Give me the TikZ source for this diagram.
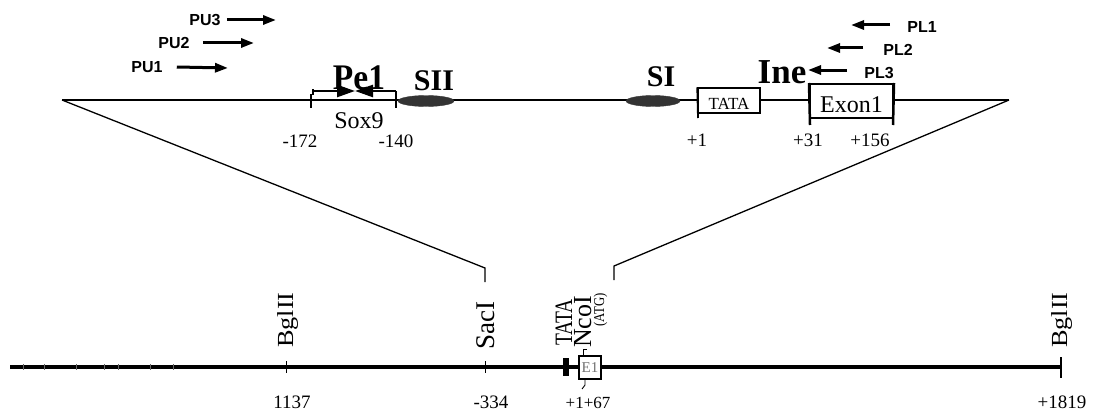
\documentclass[tikz,border=0pt]{standalone}
\usepackage{fontspec}
\usepackage{graphicx}
\setmainfont{Liberation Serif}
\newfontfamily\arialf{Liberation Sans}
\usetikzlibrary{arrows.meta,shapes.geometric}
\newcommand\fsz[1]{\fontsize{#1}{#1}\selectfont}
\begin{document}
\begin{tikzpicture}[x=1pt,y=-1pt,
  txt/.style={inner sep=0pt},
  rot/.style={inner sep=0pt,rotate=90,anchor=base west},
  primerlbl/.style={inner sep=0pt,font=\arialf\bfseries\fsz{16}},
  primer/.style={line width=3pt,-{Triangle[length=13pt,width=9pt]}},
  pelarrow/.style={line width=2.5pt,-{Triangle[length=18pt,width=12pt]}},
  thin/.style={line width=1.3pt},
  main/.style={line width=2pt},
  tick/.style={line width=1.8pt},
  blob/.style={ellipse,fill=black!80,draw=black!80,inner sep=0pt},
]
\useasboundingbox (0,0) rectangle (1094,412);
% ---------- top map ----------
\coordinate (tl) at (62,100);
\coordinate (tr) at (1009,100);
\draw[main] (tl) -- (tr);
% zoom lines
\coordinate (sacA) at (485,268);
\coordinate (sacB) at (485,282);
\coordinate (ncoA) at (614,266);
\coordinate (ncoB) at (614,280);
\draw[thin] (tl) -- (sacA) -- (sacB);
\draw[thin] (tr) -- (ncoA) -- (ncoB);
% Sox9 site
\coordinate (t172a) at (311,94);
\coordinate (t172b) at (311,108);
\coordinate (t140a) at (396,91);
\coordinate (t140b) at (396,108);
\draw[tick] (t172a) -- (t172b);
\draw[tick] (t140a) -- (t140b);
\coordinate (pl) at (313,91);
\coordinate (pr) at (396,91);
\coordinate (pm) at (355,91);
\draw[line width=1.5pt] (313,89) -- (313,95);
\draw[pelarrow] (pl) -- (pm);
\draw[pelarrow] (pr) -- (pm);
\node[txt,anchor=base,font=\bfseries\fsz{36}] (pe1) at (359,89) {\scalebox{0.93}[1]{Pe1}};
\node[txt,anchor=base,font=\fsz{24}] (sox9) at (359,128) {Sox9};
\node[txt,anchor=base,font=\fsz{19}] (m172) at (300,147) {-172};
\node[txt,anchor=base,font=\fsz{19}] (m140) at (396,147) {-140};
% SII and SI
\node[blob,minimum width=56pt,minimum height=11pt] (siie) at (426,101) {};
\node[txt,anchor=base,font=\bfseries\fsz{30}] (sii) at (434,90) {SII};
\node[blob,minimum width=54pt,minimum height=11pt] (sie) at (653,101) {};
\node[txt,anchor=base,font=\bfseries\fsz{30}] (si) at (661,86) {SI};
% TATA box
\node[draw,fill=white,line width=1.5pt,minimum width=62pt,minimum height=25pt,inner sep=0pt] (tatabox) at (729,100.5) {};
\node[txt,anchor=base,font=\fsz{17}] (tatat) at (729,109) {TATA};
\draw[tick] (tatabox.north west) -- (698,118);
\node[txt,anchor=base,font=\fsz{19}] (p1) at (697,146) {+1};
% Exon1
\node[draw,fill=white,line width=2pt,minimum width=83pt,minimum height=34pt,inner sep=0pt] (exbox) at (851.5,101) {};
\node[txt,anchor=base,font=\fsz{24}] (ext) at (851.5,112) {Exon1};
\draw[line width=2.5pt] (exbox.north west) -- (810,125);
\draw[line width=2.5pt] (exbox.north east) -- (893,125);
\node[txt,anchor=base,font=\fsz{19}] (p31) at (808,146) {+31};
\node[txt,anchor=base,font=\fsz{19}] (p156) at (870,146) {+156};
\node[txt,anchor=base,font=\bfseries\fsz{35}] (ine) at (782,83) {Ine};
% primers
\node[primerlbl] (pu3) at (205,20) {PU3};
\node[primerlbl] (pu2) at (174,43) {PU2};
\node[primerlbl] (pu1) at (147,67) {PU1};
\coordinate (pu3e) at (276,20);
\coordinate (pu2e) at (254,43);
\coordinate (pu1e) at (228,68);
\draw[primer] (pu3.east) ++(6,0) -- (pu3e);
\draw[primer] (pu2.east) ++(13,0) -- (pu2e);
\draw[primer] (pu1.east) ++(14,0) -- (pu1e);
\node[primerlbl] (pl1) at (922,27) {PL1};
\node[primerlbl] (pl2) at (898,50) {PL2};
\node[primerlbl] (pl3) at (879,73) {PL3};
\coordinate (pl1e) at (851,25);
\coordinate (pl2e) at (827,48);
\coordinate (pl3e) at (808,70);
\draw[primer] (890,25) -- (pl1e);
\draw[primer] (863,48) -- (pl2e);
\draw[primer] (847,70) -- (pl3e);
% ---------- bottom map ----------
\coordinate (bl) at (10,367);
\coordinate (br) at (1061,367);
\draw[line width=4.5pt] (bl) -- (br);
\draw[tick] (1061,357) -- (1061,378);
\foreach \xx in {23,44,76,104,118,150,173}
  \draw[line width=0.8pt,black!60] (\xx,364) -- (\xx,370);
\draw[line width=1pt] (286,361) -- (286,373);
\draw[line width=1pt] (485,361) -- (485,373);
\node[rot,font=\fsz{25}] (bgl1) at (293,348) {\scalebox{1.05}[0.92]{BglII}};
\node[rot,font=\fsz{25}] (bgl2) at (1067,348) {\scalebox{1.05}[0.92]{BglII}};
\node[rot,font=\fsz{27}] (sac) at (494,350) {SacI};
\node[rot,font=\fsz{25}] (tatab) at (572,346) {\scalebox{0.78}[1]{TATA}};
\node[rot,font=\fsz{26}] (nco) at (591,348) {NcoI};
\node[rot,font=\fsz{15}] (atg) at (604,327) {\scalebox{0.85}[1]{(ATG)}};
\fill (563,358) rectangle (569,376);
\node[draw,fill=white,line width=2.2pt,minimum width=22pt,minimum height=23pt,inner sep=0pt] (e1) at (590,367.5) {};
\node[txt,font=\fsz{15},text=black!55] (e1t) at (590,368) {E1};
\draw[line width=0.9pt] (587,349) -- (583,349) -- (583,356);
\draw[line width=0.9pt] (585,379) -- (585,385) -- (582,389);
\node[txt,anchor=base,font=\fsz{19}] (n1137) at (292,408) {1137};
\node[txt,anchor=base,font=\fsz{19}] (n334) at (491,408) {-334};
\node[txt,anchor=base,font=\fsz{17}] (n167) at (588,408) {+1+67};
\node[txt,anchor=base,font=\fsz{19}] (n1819) at (1062,408) {+1819};
\end{tikzpicture}
\end{document}
